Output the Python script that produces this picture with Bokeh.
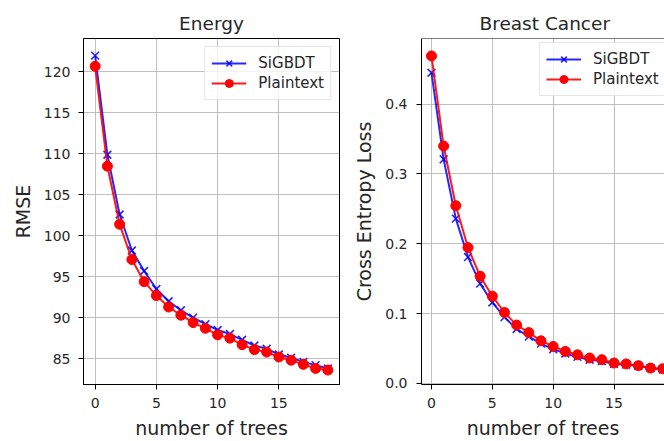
from bokeh.plotting import figure
from bokeh.layouts import row
from bokeh.models import FixedTicker, PrintfTickFormatter, Legend, LegendItem, Span, Range1d
from bokeh.embed import file_html
from bokeh.resources import INLINE

trees = list(range(20))
energy_sigbdt = [122.0, 109.9, 102.6, 98.2, 95.7, 93.5, 92.0, 90.9, 90.0, 89.2,
                 88.5, 88.0, 87.3, 86.6, 86.2, 85.5, 85.1, 84.6, 84.2, 83.8]
energy_plain = [120.7, 108.5, 101.4, 97.1, 94.4, 92.7, 91.3, 90.3, 89.4, 88.7,
                87.9, 87.5, 86.7, 86.1, 85.8, 85.2, 84.8, 84.3, 83.8, 83.6]
bc_sigbdt = [0.445, 0.321, 0.236, 0.181, 0.143, 0.116, 0.095, 0.078, 0.067, 0.057,
             0.049, 0.043, 0.038, 0.034, 0.032, 0.028, 0.027, 0.025, 0.022, 0.020]
bc_plain = [0.469, 0.340, 0.2545, 0.1946, 0.1535, 0.125, 0.1016, 0.0836, 0.0728, 0.061,
            0.053, 0.0459, 0.041, 0.0364, 0.034, 0.0293, 0.028, 0.0255, 0.022, 0.021]
x_ticks = [0, 5, 10, 15]
energy_ticks = [85, 90, 95, 100, 105, 110, 115, 120]
bc_ticks = [0.0, 0.1, 0.2, 0.3, 0.4]
series_names = ["SiGBDT", "Plaintext"]
titles = ["Energy", "Breast Cancer"]
xlabel = "number of trees"
ylabels = ["RMSE", "Cross Entropy Loss"]

FONT = "DejaVu Sans"
TXT = "#262626"
H = 441


def style(p, yticks, ystand, ylabstand):
    p.toolbar.logo = None
    p.background_fill_color = "white"
    p.border_fill_color = "white"
    for ax in (p.xaxis[0], p.yaxis[0]):
        ax.major_tick_out = 5
        ax.major_tick_in = 0
        ax.minor_tick_line_color = None
        ax.major_tick_line_color = "black"
        ax.major_tick_line_width = 1
        ax.axis_line_color = "black"
        ax.axis_line_width = 1
        ax.major_label_text_font = FONT
        ax.major_label_text_font_size = "14px"
        ax.major_label_text_color = TXT
        ax.axis_label_text_font = FONT
        ax.axis_label_text_font_size = "19px"
        ax.axis_label_text_font_style = "normal"
        ax.axis_label_text_color = TXT
    p.xaxis[0].ticker = FixedTicker(ticks=x_ticks)
    p.yaxis[0].ticker = FixedTicker(ticks=yticks)
    p.xaxis[0].major_label_standoff = 8
    p.xaxis[0].axis_label_standoff = 6
    p.yaxis[0].major_label_standoff = ystand
    p.yaxis[0].axis_label_standoff = ylabstand
    for g in (p.xgrid[0], p.ygrid[0]):
        g.grid_line_color = "#b0b0b0"
        g.grid_line_width = 1
        g.grid_line_alpha = 0.8
    p.xgrid[0].ticker = FixedTicker(ticks=x_ticks)
    p.ygrid[0].ticker = FixedTicker(ticks=yticks)
    p.title.text_font = FONT
    p.title.text_font_size = "18.5px"
    p.title.text_font_style = "normal"
    p.title.text_color = TXT


def draw(p, ys, yp):
    l1 = p.line(trees, ys, line_color="blue", line_width=2, line_alpha=0.85)
    m1 = p.scatter(trees, ys, marker="x", size=11, line_color="blue", line_width=1.6, line_alpha=0.85)
    l2 = p.line(trees, yp, line_color="red", line_width=2, line_alpha=0.9)
    m2 = p.scatter(trees, yp, marker="circle", size=10, fill_color="red", line_color="red", fill_alpha=1.0)
    return [LegendItem(label=series_names[0], renderers=[l1, m1]),
            LegendItem(label=series_names[1], renderers=[l2, m2])]


def make_legend(items, location):
    lg = Legend(items=items, location=location)
    lg.label_text_font = FONT
    lg.label_text_font_size = "15px"
    lg.label_text_color = TXT
    lg.glyph_width = 35
    lg.glyph_height = 20
    lg.label_height = 20
    lg.label_standoff = 12
    lg.spacing = 0
    lg.padding = 6
    lg.border_line_color = "#cccccc"
    lg.border_line_width = 1
    lg.background_fill_alpha = 0.8
    return lg


# Left: Energy
p1 = figure(width=350, height=H, output_backend="svg", toolbar_location=None,
            x_range=Range1d(-0.95, 19.95), y_range=Range1d(81.84, 124.09),
            title=titles[0], x_axis_label=xlabel, y_axis_label=ylabels[0],
            min_border_left=83, min_border_right=11, min_border_top=38, min_border_bottom=55)
style(p1, energy_ticks, 8, 7)
p1.title.align = "center"
p1.outline_line_color = "black"
p1.outline_line_width = 1
p1.outline_line_alpha = 1
items1 = draw(p1, energy_sigbdt, energy_plain)
lg1 = make_legend(items1, "top_right")
lg1.margin = 8
p1.add_layout(lg1)

# Right: Breast Cancer (cut at window edge)
p2 = figure(width=314, height=H, output_backend="svg", toolbar_location=None,
            x_range=Range1d(-0.82, 19.15), y_range=Range1d(-0.0015, 0.494),
            title=titles[1], x_axis_label=xlabel, y_axis_label=ylabels[1],
            min_border_left=70, min_border_right=0, min_border_top=38, min_border_bottom=55)
style(p2, bc_ticks, 9, 7)
p2.yaxis[0].formatter = PrintfTickFormatter(format="%.1f")
p2.title.align = "left"
p2.title.offset = 58
p2.outline_line_color = None
p2.add_layout(Span(location=0.494, dimension="width", line_color="black", line_width=1))
items2 = draw(p2, bc_sigbdt, bc_plain)
lg2 = make_legend(items2, (118, 288))
lg2.margin = 0
p2.add_layout(lg2)

layout = row(p1, p2)
open("out.html", "w").write(file_html(layout, INLINE))
